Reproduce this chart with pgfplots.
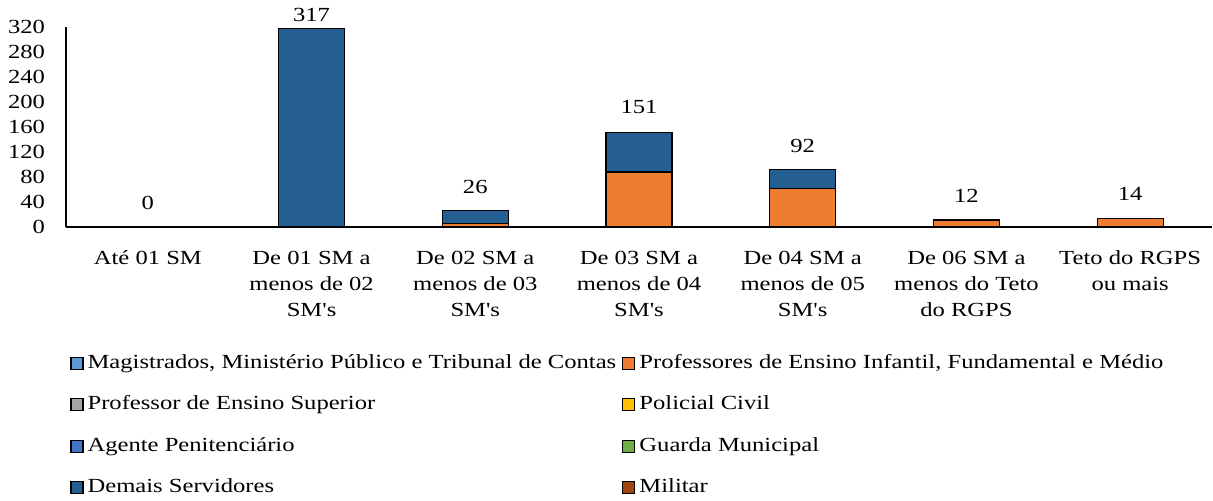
\documentclass[border=0pt]{standalone}
\usepackage{fontspec}
\setmainfont{Liberation Serif}[Ligatures=TeXOff, FakeStretch=1.23]
\usepackage{pgfplots}
\pgfplotsset{compat=1.18}
\definecolor{cmag}{HTML}{5B9BD5}
\definecolor{cprof}{HTML}{ED7D31}
\definecolor{csup}{HTML}{A5A5A5}
\definecolor{cpol}{HTML}{FFC000}
\definecolor{cage}{HTML}{4472C4}
\definecolor{cgua}{HTML}{70AD47}
\definecolor{cdem}{HTML}{255E91}
\definecolor{cmil}{HTML}{9E480E}
\begin{document}
\begin{tikzpicture}
\useasboundingbox (0,0) rectangle (606.5pt,250.5pt);
\begin{axis}[
  at={(33pt,137pt)}, anchor=south west,
  width=573pt, height=100pt, scale only axis,
  ybar stacked, bar width=33pt,
  xmin=-0.5, xmax=6.5, ymin=0, ymax=320,
  ytick={0,40,...,320},
  xtick={0,1,2,3,4,5,6},
  xticklabels={Até 01 SM,
    {De 01 SM a\\menos de 02\\SM's},
    {De 02 SM a\\menos de 03\\SM's},
    {De 03 SM a\\menos de 04\\SM's},
    {De 04 SM a\\menos de 05\\SM's},
    {De 06 SM a\\menos do Teto\\do RGPS},
    {Teto do RGPS\\ou mais}},
  axis x line*=bottom, axis y line*=left,
  axis line style={line width=0.8pt, -},
  major tick length=0pt,
  tick label style={font=\fontsize{10}{13}\selectfont},
  xticklabel style={align=center, yshift=-8.5pt},
  yticklabel style={xshift=-7pt},
  /pgf/number format/assume math mode=true,
  clip=false,
  legend columns=2,
  legend cell align=left,
  legend style={at={(0.0035,-0.624)}, anchor=north west, draw=none, fill=none,
    inner sep=0pt, column sep=1pt, row sep=9.75pt,
    font=\fontsize{10}{12}\selectfont,
    /tikz/every even column/.append style={column sep=2pt},
    nodes={inner sep=1pt, text height=7pt, text depth=2pt}},
  legend image code/.code={\draw[#1, draw=black, line width=0.6pt] (0pt,-3pt) rectangle (6pt,3pt);},
]
\addlegendimage{fill=cmag}
\addlegendentry{Magistrados, Ministério Público e Tribunal de Contas}
\addplot[fill=cprof, draw=black, line width=0.6pt] coordinates {(1,0) (2,5) (3,88) (4,61) (5,11) (6,14)};
\addlegendentry{Professores de Ensino Infantil, Fundamental e Médio}
\addlegendimage{fill=csup}
\addlegendentry{Professor de Ensino Superior}
\addlegendimage{fill=cpol}
\addlegendentry{Policial Civil}
\addlegendimage{fill=cage}
\addlegendentry{Agente Penitenciário}
\addlegendimage{fill=cgua}
\addlegendentry{Guarda Municipal}
\addplot[fill=cdem, draw=black, line width=0.6pt] coordinates {(1,317) (2,21) (3,63) (4,31) (5,1) (6,0)};
\addlegendentry{Demais Servidores}
\addlegendimage{fill=cmil}
\addlegendentry{Militar}
\node[font=\fontsize{10}{12}\selectfont, yshift=12pt] at (axis cs:0,0) {0};
\node[font=\fontsize{10}{12}\selectfont, yshift=7pt] at (axis cs:1,317) {317};
\node[font=\fontsize{10}{12}\selectfont, yshift=12pt] at (axis cs:2,26) {26};
\node[font=\fontsize{10}{12}\selectfont, yshift=13pt] at (axis cs:3,151) {151};
\node[font=\fontsize{10}{12}\selectfont, yshift=12pt] at (axis cs:4,92) {92};
\node[font=\fontsize{10}{12}\selectfont, yshift=12pt] at (axis cs:5,12) {12};
\node[font=\fontsize{10}{12}\selectfont, yshift=12pt] at (axis cs:6,14) {14};
\end{axis}
\end{tikzpicture}
\end{document}
